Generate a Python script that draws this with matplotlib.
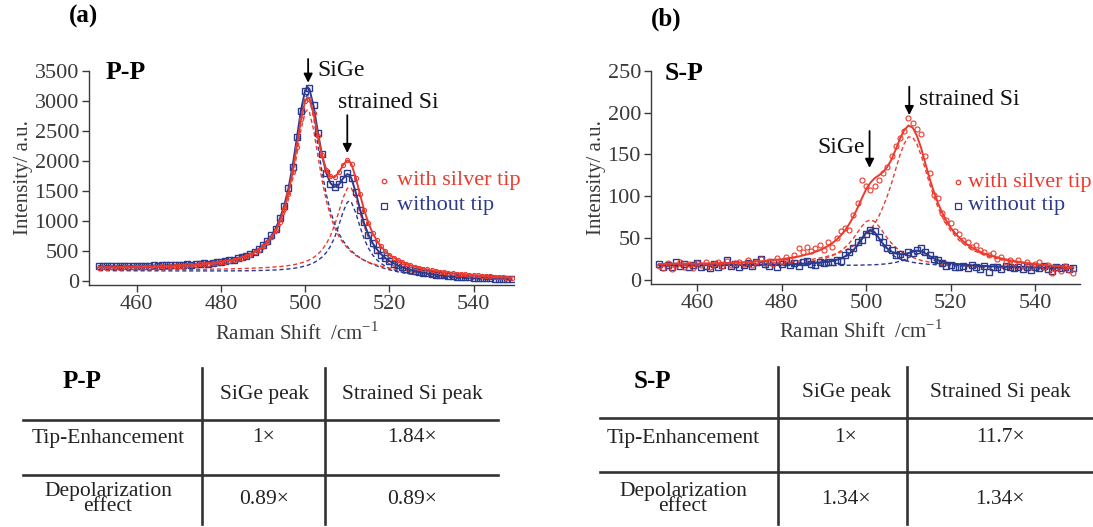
import matplotlib
matplotlib.use("Agg")
import matplotlib.pyplot as plt

plt.rcParams['font.family'] = 'serif'
plt.rcParams['font.serif'] = ['Liberation Serif', 'DejaVu Serif']
plt.rcParams['mathtext.fontset'] = 'custom'
plt.rcParams['mathtext.rm'] = 'Liberation Serif'

RED = '#ec3b2e'
BLUE = '#2c3a8e'
GREY = '#3a3a3a'

# ---- panel (a) P-P: fitted curves ----
fit_x_a = [451, 455, 460, 465, 470, 475, 480, 484, 487, 489, 491, 492, 493, 494, 495, 496, 497,
           498, 499, 500, 500.5, 501, 502, 503, 504, 505, 506, 507, 508, 509, 510, 510.5, 511,
           512, 513, 514, 515, 516, 517, 518, 519, 520, 522, 524, 526, 528, 531, 535, 540, 545, 549]
blue_fit_a = [248, 249, 252, 258, 269, 287, 324, 379, 452, 534, 664, 755, 875, 1037, 1250, 1534, 1907,
              2367, 2843, 3175, 3229, 3198, 2910, 2487, 2092, 1800, 1628, 1567, 1604, 1707, 1780, 1764, 1705,
              1477, 1202, 961, 774, 633, 529, 448, 384, 334, 258, 205, 167, 138, 106, 78, 55, 40, 32]
blue_sige_a = [244, 244, 246, 251, 260, 275, 308, 358, 426, 503, 626, 712, 828, 984, 1190, 1466, 1830,
               2277, 2738, 3052, 3095, 3050, 2732, 2267, 1815, 1446, 1164, 952, 790, 668, 575, 534, 500,
               438, 388, 346, 310, 279, 252, 228, 206, 186, 153, 128, 107, 91, 72, 53, 38, 27, 22]
blue_si_a = [172, 171, 170, 169, 168, 168, 168, 169, 172, 175, 178, 181, 184, 189, 194, 200, 208,
             219, 233, 250, 260, 273, 302, 342, 398, 472, 578, 725, 931, 1150, 1310, 1333, 1306,
             1136, 907, 704, 549, 435, 354, 293, 247, 213, 165, 132, 110, 93, 73, 57, 37, 28, 22]
red_fit_a = [224, 227, 232, 239, 251, 273, 310, 366, 440, 519, 643, 728, 842, 994, 1193, 1460, 1808,
             2236, 2680, 2997, 3052, 3031, 2784, 2418, 2086, 1854, 1737, 1729, 1807, 1931, 2008, 1993, 1939,
             1724, 1446, 1183, 967, 801, 673, 573, 497, 436, 348, 286, 240, 206, 167, 130, 96, 71, 54]
red_sige_a = [217, 219, 222, 228, 237, 254, 285, 333, 398, 469, 583, 662, 768, 912, 1101, 1355, 1689,
              2098, 2520, 2809, 2848, 2808, 2516, 2091, 1679, 1342, 1084, 891, 743, 633, 550, 513, 481,
              426, 382, 345, 314, 289, 266, 246, 229, 213, 188, 167, 148, 132, 113, 92, 69, 51, 38]
red_si_a = [189, 189, 189, 190, 192, 195, 199, 205, 212, 218, 225, 229, 235, 240, 247, 257, 267,
            282, 300, 323, 336, 352, 391, 444, 518, 617, 753, 933, 1154, 1384, 1541, 1562, 1539,
            1377, 1141, 913, 726, 583, 476, 394, 333, 286, 219, 174, 144, 122, 97, 75, 55, 40, 30]

# ---- panel (a) P-P: measured points, 451..549 cm-1 ----
pts_x = list(range(451, 550))
blue_pts_a = [250, 246, 255, 252, 247, 250, 244, 255, 251, 249,
              256, 250, 254, 260, 255, 262, 258, 266, 263, 270,
              268, 276, 274, 282, 286, 294, 290, 305, 312, 322,
              330, 345, 352, 376, 395, 420, 448, 490, 530, 592,
              660, 760, 870, 1045, 1240, 1550, 1890, 2390, 2830, 3160,
              3210, 2930, 2470, 2110, 1790, 1610, 1560, 1620, 1700, 1790,
              1720, 1480, 1190, 980, 760, 640, 520, 440, 390, 330,
              290, 262, 228, 205, 186, 170, 150, 140, 126, 115,
              106, 98, 92, 84, 80, 74, 70, 63, 60, 55,
              54, 50, 46, 44, 40, 38, 36, 34, 32]
red_pts_a = [222, 228, 220, 226, 230, 224, 229, 233, 227, 234,
             230, 236, 233, 240, 238, 243, 241, 248, 246, 253,
             255, 260, 262, 268, 275, 280, 288, 292, 304, 312,
             322, 335, 348, 368, 385, 410, 438, 478, 520, 575,
             645, 725, 845, 990, 1200, 1450, 1820, 2230, 2690, 2990,
             3030, 2790, 2410, 2090, 1850, 1740, 1725, 1810, 1930, 2010,
             1940, 1720, 1450, 1180, 970, 800, 675, 575, 495, 438,
             390, 350, 315, 287, 262, 240, 222, 206, 192, 178,
             168, 158, 150, 138, 131, 124, 116, 110, 102, 97,
             92, 86, 82, 77, 72, 66, 62, 58, 55]

# ---- panel (b) S-P: fitted curves ----
fit_x_b = [451, 455, 460, 465, 470, 475, 480, 484, 487, 489,
           491, 492, 493, 494, 495, 496, 497, 498, 499, 500,
           501, 502, 503, 504, 505, 506, 507, 508, 509, 510,
           511, 512, 513, 514, 515, 516, 517, 518, 519, 520,
           522, 524, 526, 528, 531, 535, 540, 545, 549]
red_fit_b = [19.1, 19.5, 19.5, 20.2, 20.8, 22.4, 24.9, 28.1, 31.9, 35.6,
             40.8, 44.2, 48.2, 53.3, 59.5, 67.0, 76.0, 86.6, 97.9, 108.5,
             116.3, 121.6, 125.1, 129.1, 135.1, 144.0, 156.0, 168.8, 179.0, 184.6,
             182.1, 172.4, 157.7, 139.5, 121.6, 105.7, 91.9, 80.2, 70.5, 62.4,
             50.6, 41.9, 36.2, 31.4, 26.9, 22.6, 19.1, 16.8, 15.3]
red_sige_b = [16.5, 16.7, 16.8, 17.0, 17.4, 18.0, 19.0, 20.5, 22.3, 24.3,
              27.2, 29.2, 31.7, 34.9, 39.0, 44.0, 50.1, 57.2, 64.3, 69.8,
              72.0, 69.8, 64.3, 57.2, 50.1, 44.0, 39.0, 34.9, 31.7, 29.2,
              27.2, 25.0, 23.6, 22.4, 21.4, 20.5, 19.7, 19.0, 18.3, 17.6,
              16.8, 16.0, 15.4, 14.9, 14.3, 13.6, 12.9, 12.2, 11.6]
red_si_b = [16.6, 16.8, 17.2, 17.7, 18.4, 19.4, 20.9, 22.7, 24.6, 26.4,
            28.6, 30.0, 31.5, 33.4, 35.5, 38.0, 40.9, 44.4, 48.6, 53.7,
            59.8, 67.3, 76.3, 87.4, 100.5, 115.5, 132.5, 149.4, 162.8, 170.9,
            170.7, 162.6, 149.1, 132.2, 115.1, 100.0, 86.8, 75.6, 66.5, 58.8,
            47.4, 39.5, 33.9, 29.7, 25.4, 21.6, 18.5, 16.3, 15.0]
blue_fit_b = [17.8, 17.8, 17.9, 17.9, 18.0, 18.2, 18.5, 19.2, 20.1, 21.1,
              22.0, 22.9, 24.2, 25.9, 28.3, 31.5, 35.9, 42.0, 49.6, 56.9,
              60.1, 57.1, 50.3, 43.2, 37.7, 34.0, 31.8, 30.9, 31.0, 32.2,
              33.8, 35.1, 34.4, 31.9, 28.7, 26.0, 23.8, 22.2, 21.0, 20.1,
              18.9, 18.1, 17.3, 16.8, 16.3, 15.8, 15.2, 14.7, 14.4]
blue_sige_b = [17.7, 17.7, 17.7, 17.7, 17.7, 17.9, 18.1, 18.7, 19.5, 20.3,
               21.6, 22.5, 23.7, 25.4, 27.7, 30.8, 35.2, 41.2, 48.7, 55.8,
               58.8, 55.6, 48.5, 41.0, 35.0, 30.6, 27.5, 25.2, 23.5, 22.3,
               21.1, 20.4, 19.7, 19.2, 18.8, 18.5, 18.1, 17.9, 17.6, 17.4,
               17.1, 16.8, 16.4, 16.1, 15.8, 15.4, 14.9, 14.6, 14.2]
blue_si_b = [17.6, 17.6, 17.5, 17.5, 17.4, 17.4, 17.4, 17.5, 17.6, 17.7,
             17.4, 17.4, 17.5, 17.5, 17.6, 17.7, 17.7, 17.8, 17.9, 18.1,
             18.1, 18.3, 18.6, 19.0, 19.5, 20.2, 21.1, 22.5, 24.3, 26.7,
             29.2, 31.2, 31.1, 29.1, 26.2, 23.8, 21.9, 20.5, 19.5, 18.7,
             17.8, 17.1, 16.5, 16.1, 15.7, 15.4, 14.8, 14.5, 14.1]

# ---- panel (b) S-P: measured points ----
red_pts_b = [17, 14, 20, 13, 18, 22, 16, 19, 14, 20,
             18, 22, 16, 19, 21, 17, 23, 18, 20, 22,
             19, 24, 18, 21, 25, 20, 23, 19, 26, 22,
             28, 24, 30, 38, 33, 40, 35, 38, 42, 36,
             45, 40, 50, 58, 62, 60, 78, 92, 120, 112,
             108, 112, 120, 128, 135, 148, 160, 170, 178, 193,
             188, 180, 175, 148, 128, 102, 98, 80, 72, 68,
             58, 55, 48, 45, 40, 42, 36, 33, 30, 32,
             25, 28, 22, 24, 20, 24, 18, 21, 16, 19,
             22, 15, 18, 8, 14, 11, 17, 12, 9]
blue_pts_b = [19, 16, 18, 15, 22, 17, 19, 16, 18, 20,
              15, 17, 14, 19, 16, 18, 24, 17, 19, 16,
              18, 20, 17, 22, 25, 19, 17, 21, 15, 19,
              22, 18, 20, 17, 21, 23, 19, 18, 22, 20,
              21, 22, 24, 23, 30, 34, 38, 45, 48, 55,
              60, 58, 52, 46, 38, 36, 30, 31, 28, 33,
              32, 36, 38, 34, 30, 25, 24, 20, 17, 18,
              16, 15, 17, 14, 18, 16, 13, 17, 10, 15,
              16, 13, 17, 15, 14, 16, 13, 15, 12, 16,
              14, 17, 13, 11, 16, 14, 15, 13, 14]

x_ticks = [460, 480, 500, 520, 540]
y_ticks_a = [0, 500, 1000, 1500, 2000, 2500, 3000, 3500]
y_ticks_b = [0, 50, 100, 150, 200, 250]

# table contents
col_heads = ['SiGe peak', 'Strained Si peak']
row_heads = ['Tip-Enhancement', 'Depolarization\neffect']
table_a = [['1×', '1.84×'], ['0.89×', '0.89×']]
table_b = [['1×', '11.7×'], ['1.34×', '1.34×']]


def style_axes(ax, xlim, ylim, yticks):
    ax.set_xlim(*xlim)
    ax.set_ylim(*ylim)
    ax.set_xticks(x_ticks)
    ax.set_yticks(yticks)
    for s in ['top', 'right']:
        ax.spines[s].set_visible(False)
    for s in ['left', 'bottom']:
        ax.spines[s].set_color(GREY)
        ax.spines[s].set_linewidth(1.0)
    ax.tick_params(direction='out', length=5, width=1, color=GREY,
                   labelsize=16, labelcolor=GREY, pad=2)
    ax.set_ylabel('Intensity/ a.u.', fontsize=15, color=GREY, labelpad=1)
    ax.set_xlabel(r'Raman Shift  /cm$^{\mathregular{-1}}$', fontsize=15, color=GREY, labelpad=0)
    ax.xaxis.set_label_coords(0.49, -0.17)


def draw_curves(ax, fx, bfit, bsige, bsi, rfit, rsige, rsi, bpts, rpts, sq, ci):
    dash = dict(ls=(0, (3, 2)), lw=1.0)
    ax.plot(fx, bsige, color=BLUE, **dash)
    ax.plot(fx, bsi, color=BLUE, **dash)
    ax.plot(fx, rsige, color=RED, **dash)
    ax.plot(fx, rsi, color=RED, **dash)
    ax.plot(pts_x, bpts, ls='none', marker='s', ms=sq, mfc='none', mec=BLUE, mew=1.0)
    ax.plot(fx, bfit, color=BLUE, lw=1.4)
    ax.plot(pts_x, rpts, ls='none', marker='o', ms=ci, mfc='none', mec=RED, mew=0.8)
    ax.plot(fx, rfit, color=RED, lw=1.4)


def arrow(ax, x, y0, y1):
    ax.annotate('', xy=(x, y1), xytext=(x, y0), annotation_clip=False,
                arrowprops=dict(arrowstyle='-|>', color='k', lw=1.3,
                                mutation_scale=13, shrinkA=0, shrinkB=0))


def legend(ax, x_m, x_t, y_r, y_b, ci, sq):
    ax.plot([x_m], [y_r], marker='o', ms=ci, mfc='none', mec=RED, mew=0.9, clip_on=False)
    ax.plot([x_m], [y_b], marker='s', ms=sq, mfc='none', mec=BLUE, mew=0.9, clip_on=False)
    ax.text(x_t, y_r, 'with silver tip', color=RED, fontsize=16, va='center', clip_on=False)
    ax.text(x_t, y_b, 'without tip', color=BLUE, fontsize=16, va='center')


fig = plt.figure(figsize=(10.93, 5.27), dpi=100)

# overlay in pixel coordinates for the tables and panel letters
tab = fig.add_axes([0, 0, 1, 1])
tab.set_xlim(0, 1093)
tab.set_ylim(527, 0)
tab.axis('off')
tab.patch.set_alpha(0)

ax_a = fig.add_axes([0.0812, 0.4586, 0.3891, 0.4072])
ax_b = fig.add_axes([0.5953, 0.4605, 0.3928, 0.4053])

# panel (a)
style_axes(ax_a, (448.6, 549.6), (-72, 3500), y_ticks_a)
draw_curves(ax_a, fit_x_a, blue_fit_a, blue_sige_a, blue_si_a,
            red_fit_a, red_sige_a, red_si_a, blue_pts_a, red_pts_a, 3.8, 3.0)
ax_a.text(452.6, 3472, 'P-P', fontsize=18.5, fontweight='bold', va='center')
arrow(ax_a, 500.7, 3695, 3300)
ax_a.text(503.0, 3500, 'SiGe', fontsize=17, va='center', color='#111111')
arrow(ax_a, 510.0, 2760, 2130)
ax_a.text(507.9, 2972, 'strained Si', fontsize=17, va='center', color='#111111')
legend(ax_a, 518.8, 521.8, 1667, 1250, 3.2, 4.0)

# panel (b)
style_axes(ax_b, (449.0, 550.6), (-5.1, 250), y_ticks_b)
draw_curves(ax_b, fit_x_b, blue_fit_b, blue_sige_b, blue_si_b,
            red_fit_b, red_sige_b, red_si_b, blue_pts_b, red_pts_b, 4.3, 3.6)
ax_b.text(452.3, 247, 'S-P', fontsize=18.5, fontweight='bold', va='center')
arrow(ax_b, 510.2, 231, 197)
ax_b.text(512.6, 216, 'strained Si', fontsize=17, va='center', color='#111111')
arrow(ax_b, 500.8, 178, 134)
ax_b.text(499.6, 158, 'SiGe', fontsize=17, va='center', ha='right', color='#111111')
legend(ax_b, 521.7, 524.2, 117, 88.5, 3.2, 4.0)

# panel letters
tab.text(84, 16, '(a)', fontsize=18, fontweight='bold', ha='center', va='center')
tab.text(666, 19, '(b)', fontsize=18, fontweight='bold', ha='center', va='center')


def draw_table(title, title_xy, x0, x1, h_ys, v_xs, v_top, c1, c2, row_x, y_head, y_rows, vals):
    for y in h_ys:
        tab.plot([x0, x1], [y, y], color='#333333', lw=1.9, clip_on=False)
    for x in v_xs:
        tab.plot([x, x], [v_top, 524], color='#333333', lw=1.9, clip_on=False)
    tab.text(title_xy[0], title_xy[1], title, fontsize=18, fontweight='bold', ha='center', va='center')
    tab.text(c1, y_head, col_heads[0], fontsize=15.5, ha='center', va='center', color='#222222')
    tab.text(c2, y_head, col_heads[1], fontsize=15.5, ha='center', va='center', color='#222222')
    for i, (yr, rh) in enumerate(zip(y_rows, row_heads)):
        tab.text(row_x, yr, rh, fontsize=15.5, ha='center', va='center', color='#222222',
                 linespacing=0.78)
        tab.text(c1, yr, vals[i][0], fontsize=15.5, ha='center', va='center', color='#222222')
        tab.text(c2, yr, vals[i][1], fontsize=15.5, ha='center', va='center', color='#222222')


draw_table('P-P', (82, 382), 23, 498, [420, 475], [202, 325], 368,
           264, 412, 108, 395, [438, 499], table_a)
draw_table('S-P', (652, 381), 600, 1093, [418, 472], [778, 907], 367,
           846, 1000, 683, 393, [438, 499], table_b)

fig.savefig('out.png', dpi=100)
